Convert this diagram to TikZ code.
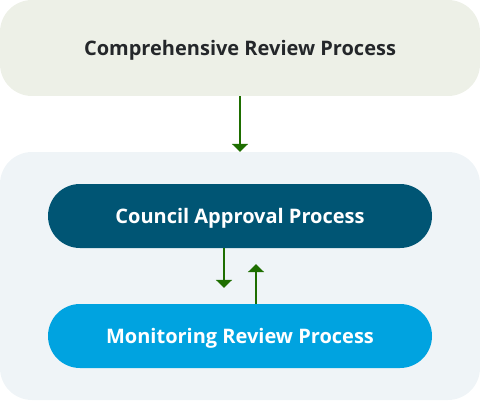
\documentclass[tikz,border=0pt]{standalone}
\usepackage{fontspec}
\setmainfont{Open Sans}
\usetikzlibrary{arrows.meta}
\definecolor{topfill}{HTML}{EDF0E7}
\definecolor{contfill}{HTML}{EFF4F7}
\definecolor{darkblue}{HTML}{005574}
\definecolor{lightblue}{HTML}{00A3E0}
\definecolor{txtdark}{HTML}{24272A}
\definecolor{arrowgreen}{HTML}{1E6E00}
\tikzset{
  lbl/.style={font=\fontsize{20}{24}\selectfont\bfseries, text height=14.3pt, text depth=0pt},
  pill/.style={lbl, rounded corners=32pt, minimum width=384pt, minimum height=64pt, inner sep=0pt, text=white},
  flow/.style={draw=arrowgreen, line width=2pt, -{Triangle[width=16pt,length=8pt]}}
}
\begin{document}
\begin{tikzpicture}[x=1pt,y=1pt]
\useasboundingbox (0,0) rectangle (480,400);
% top box
\node[lbl, fill=topfill, rounded corners=32pt, minimum width=480pt, minimum height=96pt, inner sep=0pt,
  text=txtdark] (crp) at (240,352) {Comprehensive Review Process};
% container
\node[fill=contfill, rounded corners=32pt, minimum width=480pt, minimum height=248pt, inner sep=0pt] (cont) at (240,124) {};
\node[pill, fill=darkblue] (cap) at (240,184) {Council Approval Process};
\node[pill, fill=lightblue] (mrp) at (240,64) {Monitoring Review Process};
\draw[flow] (crp.south) -- (cont.north);
\draw[flow] ([xshift=-16pt]cap.south) -- ([xshift=-16pt,yshift=16pt]mrp.north);
\draw[flow] ([xshift=16pt]mrp.north) -- ([xshift=16pt,yshift=-16pt]cap.south);
\end{tikzpicture}
\end{document}
